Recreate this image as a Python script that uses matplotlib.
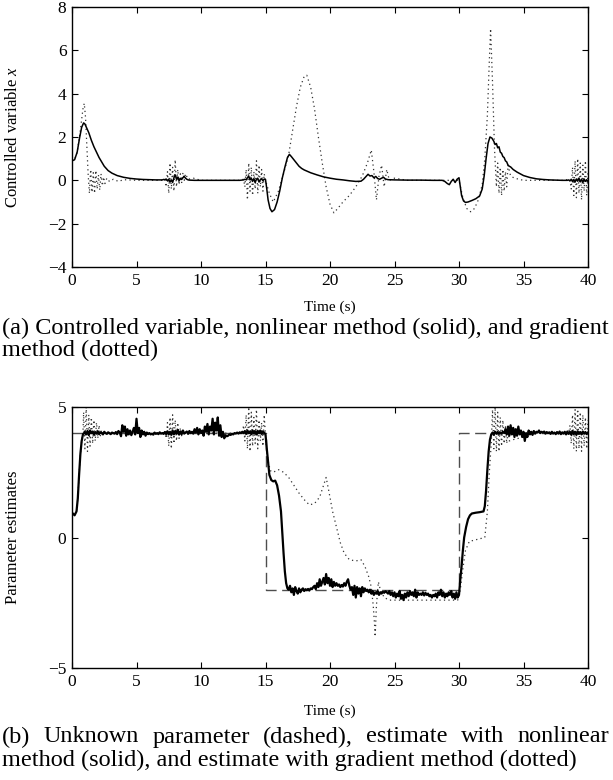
import numpy as np
import matplotlib
matplotlib.use('Agg')
import matplotlib.pyplot as plt

plt.rcParams['font.family'] = ['Liberation Serif', 'DejaVu Serif']
plt.rcParams['mathtext.fontset'] = 'custom'
plt.rcParams['mathtext.it'] = 'Liberation Serif:italic'
plt.rcParams['mathtext.rm'] = 'Liberation Serif'

# ---------------- data: controlled variable x ----------------
t_x_nl = [0, 0.2, 0.4, 0.6, 0.75, 0.9, 1.0, 1.15, 1.3, 1.5, 1.7, 1.9, 2.1, 2.3, 2.5, 2.8, 3.1, 3.5, 4.0, 4.5,
          5.0, 5.5, 6.0, 6.5, 7.0,
          7.1, 7.2, 7.3, 7.4, 7.5, 7.6, 7.7, 7.8, 7.9, 8.0, 8.1, 8.2, 8.3, 8.4, 8.5, 8.6, 8.7, 8.8, 8.9, 9.0, 9.1,
          9.5, 10, 11, 12, 13, 13.3,
          13.4, 13.5, 13.6, 13.7, 13.8, 13.9, 14.0, 14.1, 14.2, 14.3, 14.4, 14.5, 14.6, 14.7, 14.8, 14.9, 15.0,
          15.1, 15.2, 15.35, 15.5, 15.7, 15.9, 16.1, 16.3, 16.5, 16.7, 16.85, 17.0, 17.2, 17.4, 17.6, 17.8, 18.0,
          18.5, 19.0, 19.5, 20.0, 20.5, 21.0, 21.5, 22.0, 22.4, 22.6, 22.8, 22.95, 23.1, 23.25, 23.4, 23.55, 23.7,
          23.85, 24.0, 24.15, 24.3, 24.5, 25.0, 26, 27, 28, 28.7, 28.9, 29.1, 29.25, 29.4, 29.55, 29.7, 29.85,
          30.0, 30.1, 30.2, 30.35, 30.5, 30.7, 31.0, 31.3, 31.6, 31.8, 31.95, 32.1, 32.25, 32.4, 32.55, 32.7, 32.8,
          32.9, 33.0, 33.1, 33.2, 33.3, 33.4, 33.5, 33.6, 33.7, 33.8, 33.9, 34.0, 34.2, 34.5, 35.0, 35.5, 36,
          36.5, 37, 37.5, 38, 38.4,
          38.5, 38.6, 38.7, 38.8, 38.9, 39.0, 39.1, 39.2, 39.3, 39.4, 39.5, 39.6, 39.7, 39.8, 39.9, 40.0]
x_nl = [0.9, 0.95, 1.3, 2.0, 2.45, 2.65, 2.6, 2.4, 2.2, 1.85, 1.55, 1.3, 1.05, 0.85, 0.65, 0.45, 0.33, 0.22, 0.14, 0.09,
        0.06, 0.04, 0.03, 0.02, 0.02,
        0.04, 0.03, 0.06, -0.02, 0.05, -0.08, 0.02, -0.1, 0.12, 0.25, 0.05, 0.15, -0.02, 0.08, 0.04, 0.12, 0.18, 0.1,
        0.05, 0.02, 0.01,
        0.0, 0.0, 0.0, 0.0, 0.0, 0.02,
        0.05, 0.03, 0.12, 0.2, 0.02, 0.1, -0.05, 0.08, -0.1, 0.05, 0.1, -0.08, 0.03, 0.07, -0.02, 0.06, 0.04,
        -0.4, -0.9, -1.3, -1.45, -1.35, -1.0, -0.5, 0.1, 0.6, 1.05, 1.2, 1.1, 0.95, 0.8, 0.65, 0.55, 0.48,
        0.35, 0.25, 0.16, 0.1, 0.05, 0.02, -0.02, -0.05, -0.04, 0.05, 0.18, 0.28, 0.2, 0.22, 0.12, 0.18, 0.08,
        0.05, 0.1, 0.14, 0.06, 0.03, 0.02, 0.01, 0.01, 0.0, 0.0, -0.05, -0.15, -0.2, -0.05, 0.05, -0.1, 0.05,
        0.12, -0.3, -0.7, -0.95, -1.02, -1.0, -0.93, -0.85, -0.72, -0.4, 0.2, 1.0, 1.7, 2.0, 1.95, 1.8, 1.65,
        1.7, 1.5, 1.55, 1.3, 1.25, 1.1, 1.05, 0.9, 0.85, 0.7, 0.65, 0.62, 0.5, 0.38, 0.22, 0.13, 0.07,
        0.04, 0.02, 0.01, 0.0, 0.0,
        0.02, -0.03, 0.05, -0.06, 0.04, -0.08, 0.06, -0.04, 0.1, -0.07, 0.05, -0.1, 0.06, -0.05, 0.03, -0.06]

t_x_gr = [0, 0.2, 0.4, 0.6, 0.75, 0.85, 0.95, 1.05, 1.15, 1.25, 1.35, 1.45, 1.55, 1.65, 1.75, 1.85, 1.95, 2.05,
          2.15, 2.25, 2.35, 2.45, 2.55, 2.7, 2.9, 3.2, 3.6, 4, 5, 6, 7,
          7.2, 7.3, 7.4, 7.5, 7.6, 7.7, 7.8, 7.9, 8.0, 8.1, 8.2, 8.3, 8.4, 8.5, 8.6, 8.7, 8.8, 9.0, 9.4, 10, 11,
          12, 13, 13.3, 13.4, 13.5, 13.6, 13.7, 13.8, 13.9, 14.0, 14.1, 14.2, 14.3, 14.4, 14.5, 14.6, 14.7, 14.8,
          14.9, 15.0, 15.3, 15.6, 16.0, 16.4, 16.8, 17.1, 17.4, 17.7, 18.0, 18.2, 18.5, 18.8, 19.1, 19.4, 19.7,
          20.0, 20.3, 20.6, 21.0, 21.5, 22.0, 22.5, 22.9, 23.2, 23.4, 23.6, 23.8, 24.0, 24.2, 24.4, 24.6, 25.0,
          26, 27, 28, 29, 30.0, 30.3, 30.6, 30.9, 31.2, 31.5, 31.8, 32.0, 32.2, 32.35, 32.45, 32.6, 32.75, 32.9,
          33.0, 33.1, 33.2, 33.3, 33.4, 33.5, 33.6, 33.7, 33.8, 34.0, 34.3, 35, 36, 37, 38, 38.6,
          38.7, 38.8, 38.9, 39.0, 39.1, 39.2, 39.3, 39.4, 39.5, 39.6, 39.7, 39.8, 39.9, 40.0]
x_gr = [0.9, 0.95, 1.3, 2.1, 2.8, 3.3, 3.55, 2.9, 1.6, 0.3, -0.6, 0.5, -0.55, 0.35, -0.6, 0.45, -0.4, 0.25,
        -0.45, 0.3, -0.25, 0.15, -0.15, 0.1, -0.05, 0.05, -0.05, 0.03, 0.0, 0.0, 0.0,
        0.05, -0.3, 0.4, -0.6, 0.8, -0.4, 0.6, -0.5, 0.95, -0.3, 0.5, -0.2, 0.3, -0.1, 0.35, 0.0, 0.3, 0.05, 0.1,
        0.0, 0.0, 0.0, 0.0, 0.05, -0.3, 0.5, -0.9, 0.8, -0.5, 0.6, -0.7, 0.4, -0.4, 0.9, -0.6, 0.7, -0.3, 0.5,
        -0.5, 0.3, 0.0, -0.6, -1.0, -0.5, 0.3, 1.2, 2.3, 3.4, 4.3, 4.8, 4.85, 4.3, 3.3, 2.0, 0.8, -0.3,
        -1.1, -1.5, -1.3, -1.0, -0.7, -0.3, 0.2, 0.8, 1.4, 0.4, -0.9, 0.2, 0.7, -0.3, 0.5, 0.0, 0.1,
        0.0, 0.0, 0.0, 0.0, 0.0, -0.8, -1.3, -1.45, -1.3, -0.9, -0.2, 1.0, 3.0, 5.5, 7.0, 4.5, 1.5, -0.3,
        0.8, -0.6, 0.6, -0.7, 0.5, -0.5, 0.4, -0.3, 0.7, 0.2, 0.1, 0.0, 0.0, 0.0, 0.0, 0.05,
        -0.4, 0.6, -0.7, 0.9, -0.8, 1.0, -0.6, 0.8, -0.9, 0.7, -0.5, 0.9, -0.7, 0.4]

# ---------------- data: parameter estimates ----------------
t_true = [0, 15, 15, 30, 30, 40]
p_true = [4, 4, -2, -2, 4, 4]

t_p_nl = ([0, 0.2, 0.35, 0.45, 0.55, 0.65, 0.75, 0.85]
          + [round(0.9 + 0.1 * i, 1) for i in range(142)]
          + [15.1, 15.2, 15.3, 15.45, 15.6, 15.75, 15.9, 16.05, 16.2, 16.3, 16.4, 16.5, 16.6, 16.7]
          + [round(16.8 + 0.1 * i, 1) for i in range(133)]
          + [30.1, 30.2, 30.3, 30.4, 30.55, 30.7, 30.85, 31.0, 31.3, 31.6, 31.9, 32.0, 32.1, 32.2, 32.3, 32.4, 32.5]
          + [round(32.6 + 0.1 * i, 1) for i in range(75)])
p_nl = ([0.95, 0.85, 1.0, 1.5, 2.4, 3.2, 3.7, 3.95]
        + [3.98, 4.05, 3.95, 4.08, 3.92, 4.1, 4.0, 4.06, 3.94, 4.04, 3.98, 4.07, 3.96, 4.03, 4.0, 3.95, 4.05, 4.0,
           3.97, 4.03, 4.0, 3.96, 4.02, 4.0, 3.98, 4.04, 3.96, 4.08, 4.02, 3.88, 4.3, 4.05, 4.25, 3.9, 4.15, 3.95,
           4.1, 3.92, 4.05, 4.2, 3.95, 4.55, 4.0, 4.2, 3.85, 4.1, 3.95, 4.05, 3.9, 4.02, 3.96, 4.0, 3.95, 3.98,
           3.94, 4.02, 3.97, 4.0, 3.96, 4.03, 3.98, 4.0, 3.97, 4.04, 3.96, 4.07, 3.95, 4.05, 3.93, 4.1, 3.95,
           4.08, 3.98, 4.12, 3.94, 4.06, 3.96, 4.1, 3.98, 4.02, 4.06, 3.97, 4.08, 4.0, 4.05, 3.98, 4.15, 4.02,
           4.2, 3.95, 4.15, 4.0, 4.1, 3.9, 4.25, 4.05, 4.35, 3.95, 4.25, 4.1, 4.55, 3.95, 4.4, 4.1, 4.6, 3.9,
           4.3, 3.85, 4.05, 3.8, 3.92, 3.88, 3.9, 3.95, 3.93, 3.97, 3.95, 4.0, 3.98, 4.02, 3.98, 4.03, 4.0, 4.05,
           4.0, 4.08, 3.97, 4.1, 4.0, 4.06, 3.96, 4.1, 3.98, 4.07, 3.95, 4.08, 4.0, 4.1, 3.97, 4.05, 4.02, 3.95]
        + [3.4, 2.9, 2.4, 2.2, 2.15, 2.18, 2.0, 1.6, 1.0, 0.2, -0.6, -1.3, -1.75, -1.95]
        + [-2.0, -1.85, -2.1, -1.95, -2.2, -1.9, -2.05, -2.15, -1.95, -2.1, -2.0, -1.95, -2.05, -1.98, -2.02,
           -1.97, -2.03, -1.95, -1.98, -1.9, -1.85, -1.98, -1.75, -1.9, -1.6, -1.85, -1.7, -1.55, -1.8, -1.4,
           -1.75, -1.55, -1.85, -1.6, -1.9, -1.7, -1.85, -1.75, -1.85, -1.8, -1.9, -1.82, -1.88, -1.75, -1.85,
           -1.7, -1.6, -1.85, -2.0, -1.9, -2.2, -1.85, -2.3, -1.9, -2.15, -1.95, -2.25, -1.9, -2.1, -1.95, -2.05,
           -2.0, -2.1, -2.0, -2.15, -2.05, -2.2, -2.1, -2.15, -2.05, -2.2, -2.1, -2.15, -2.08, -2.12, -2.06,
           -2.1, -2.15, -2.05, -2.2, -2.1, -2.25, -2.1, -2.3, -2.15, -2.25, -2.05, -2.35, -2.2, -2.4, -2.15,
           -2.3, -2.1, -2.25, -2.05, -2.2, -2.1, -2.25, -2.0, -2.3, -2.1, -2.2, -2.15, -2.2, -2.1, -2.22, -2.12,
           -2.2, -2.15, -2.25, -2.2, -2.3, -2.2, -2.25, -2.15, -2.3, -2.1, -2.2, -2.0, -2.25, -2.1, -2.3, -2.15,
           -2.25, -2.1, -2.2, -2.05, -2.3, -2.15, -2.35, -2.1, -2.3, -2.2]
        + [-1.6, -1.1, -0.5, 0.0, 0.4, 0.7, 0.85, 0.92, 0.95, 0.97, 1.0, 1.2, 1.8, 2.6, 3.3, 3.75, 3.95]
        + [4.02, 3.95, 4.05, 3.98, 4.04, 3.97, 4.02, 3.99, 4.05, 4.0, 4.15, 3.95, 4.25, 3.9, 4.3, 3.95, 4.2,
           3.85, 4.15, 3.9, 4.25, 3.95, 4.1, 3.85, 4.05, 3.7, 4.0, 3.85, 4.1, 3.95, 4.05, 3.93, 4.08, 3.98,
           4.05, 4.02, 4.1, 4.0, 4.05, 4.02, 4.06, 3.98, 4.04, 4.0, 4.03, 3.97, 4.05, 3.98, 4.02, 3.96, 4.04,
           3.98, 4.06, 3.96, 4.03, 3.98, 4.05, 3.95, 4.06, 3.97, 4.05, 3.94, 4.08, 3.96, 4.05, 3.93, 4.07,
           3.97, 4.04, 3.95, 4.06, 3.98, 4.04, 3.96, 4.02])

t_p_gr = [0, 0.2, 0.35, 0.45, 0.55, 0.65, 0.75, 0.85, 0.9, 1.0, 1.1, 1.2, 1.3, 1.4, 1.5, 1.6, 1.7, 1.8, 1.9,
          2.0, 2.1, 2.2, 2.3, 2.5, 3, 7.0, 7.2, 7.3, 7.4, 7.5, 7.6, 7.7, 7.8, 7.9, 8.0, 8.1, 8.2, 8.3, 8.4, 8.5,
          8.6, 8.8, 13.2, 13.3, 13.4, 13.5, 13.6, 13.7, 13.8, 13.9, 14.0, 14.1, 14.2, 14.3, 14.4, 14.5, 14.6,
          14.7, 14.8, 14.9, 15.0, 15.1, 15.25, 15.4, 15.6, 16.0, 16.4, 16.8, 17.2, 17.6, 18.0, 18.4, 18.8, 19.2,
          19.5, 19.7, 19.9, 20.2, 20.5, 20.8, 21.1, 21.5, 22.0, 22.4, 22.7, 23.0, 23.2, 23.35, 23.45, 23.5,
          23.6, 23.75, 23.9, 24.2, 24.6, 25.0, 29.9, 30.1, 30.3, 30.5, 30.8, 31.2, 31.6, 32.0, 32.2, 32.35,
          32.5, 32.6, 32.7, 32.8, 32.9, 33.0, 33.1, 33.2, 33.3, 33.4, 33.5, 33.6, 33.7, 33.8, 33.9, 34.2, 34.6,
          35.0, 35.5, 36, 38.5, 38.6, 38.7, 38.8, 38.9, 39.0, 39.1, 39.2, 39.3, 39.4, 39.5, 39.6, 39.7, 39.8,
          39.9, 40.0]
p_gr = [0.95, 0.85, 1.0, 1.5, 2.4, 3.2, 3.7, 4.0, 4.8, 3.4, 5.0, 3.3, 4.7, 3.5, 4.6, 3.6, 4.5, 3.7, 4.4,
        3.8, 4.3, 3.9, 4.1, 4.0, 4.0, 4.0, 4.1, 3.8, 4.4, 3.5, 4.6, 3.4, 4.7, 3.6, 4.5, 3.7, 4.4, 3.8, 4.2, 3.9,
        4.1, 4.0, 4.0, 4.3, 3.7, 4.7, 3.4, 5.0, 3.3, 4.8, 3.5, 4.6, 3.6, 4.9, 3.4, 4.5, 3.7, 4.4, 3.5, 4.7,
        3.9, 3.3, 2.8, 2.55, 2.5, 2.6, 2.5, 2.3, 2.0, 1.7, 1.45, 1.25, 1.3, 1.55, 2.0, 2.3, 1.8, 1.0, 0.4,
        -0.2, -0.6, -0.85, -0.9, -0.85, -1.1, -1.5, -1.9, -2.6, -3.3, -3.8, -2.6, -1.7, -2.0, -2.3, -2.4,
        -2.4, -2.4, -2.0, -1.2, -0.5, -0.15, -0.1, -0.05, 0.0, 1.0, 2.5, 3.6, 4.9, 3.4, 5.0, 3.3, 4.8, 3.3,
        4.6, 3.5, 4.5, 3.6, 4.3, 3.6, 4.1, 3.7, 3.75, 3.8, 3.85, 3.95, 4.0, 4.0, 4.3, 3.6, 4.7, 3.4, 4.9,
        3.3, 5.0, 3.4, 4.8, 3.3, 4.7, 3.5, 4.6, 3.4, 4.5]

xticks = [0, 5, 10, 15, 20, 25, 30, 35, 40]
yticks_top = [-4, -2, 0, 2, 4, 6, 8]
yticks_bot = [-5, 0, 5]

# ---------------- figure ----------------
W, H = 613, 780
fig = plt.figure(figsize=(W / 100, H / 100), dpi=100)


def rect(l, t, r, b):
    return [l / W, 1 - b / H, (r - l) / W, (b - t) / H]


L, R = 72, 588
ax1 = fig.add_axes(rect(L, 7, R, 267))
ax2 = fig.add_axes(rect(L, 407, R, 668))

TICK_FS = 12.5
LAB_FS = 11
YLAB_FS = 12
DOT = (0, (1, 2.6))

for ax in (ax1, ax2):
    ax.set_xlim(0, 40)
    ax.set_xticks(xticks)
    ax.tick_params(direction='in', top=True, right=True, length=4, width=0.8,
                   labelsize=TICK_FS, pad=4)
    for s in ax.spines.values():
        s.set_linewidth(1.0)

ax1.set_ylim(-4, 8)
ax1.set_yticks(yticks_top)
ax2.set_ylim(-5, 5)
ax2.set_yticks(yticks_bot)

ax1.plot(t_x_gr, x_gr, linestyle=DOT, color='0.2', lw=0.9)
ax1.plot(t_x_nl, x_nl, '-', color='black', lw=1.1)

ax2.plot(t_true, p_true, linestyle=(0, (8, 4)), color='0.3', lw=1.0)
ax2.plot(t_p_gr, p_gr, linestyle=DOT, color='0.2', lw=0.9)
ax2.plot(t_p_nl, p_nl, '-', color='black', lw=1.6)

ax1.set_ylabel('Controlled variable $x$', fontsize=YLAB_FS)
ax2.set_ylabel('Parameter estimates', fontsize=YLAB_FS)
ax1.yaxis.set_label_coords((21 - L) / (R - L), 0.5)
ax2.yaxis.set_label_coords((21 - L) / (R - L), 0.5)
fig.text((L + R) / 2 / W, 1 - 307 / H, 'Time (s)', fontsize=LAB_FS, ha='center', va='center')
fig.text((L + R) / 2 / W, 1 - 711 / H, 'Time (s)', fontsize=LAB_FS, ha='center', va='center')

# captions
CAP_FS = 15.5
fig.canvas.draw()
renderer = fig.canvas.get_renderer()


def width_px(s, fs):
    t = fig.text(0, 0, s, fontsize=fs)
    w = t.get_window_extent(renderer).width
    t.remove()
    return w


capA1 = '(a) Controlled variable, nonlinear method (solid), and gradient'
wA = width_px(capA1, CAP_FS)
CAP_FS = CAP_FS * 607 / wA

fig.text(2 / W, 1 - 328 / H, capA1, fontsize=CAP_FS, ha='left', va='center')
fig.text(2 / W, 1 - 350 / H, 'method (dotted)', fontsize=CAP_FS, ha='left', va='center')


def justified(words, y, x0, x1, fs):
    ws = [width_px(w, fs) for w in words]
    gap = (x1 - x0 - sum(ws)) / (len(words) - 1)
    x = x0
    for w, wd in zip(words, ws):
        fig.text(x / W, 1 - y / H, w, fontsize=fs, ha='left', va='center')
        x += wd + gap


justified('(b) Unknown parameter (dashed), estimate with nonlinear'.split(), 737, 2, 609, CAP_FS)
fig.text(2 / W, 1 - 760 / H, 'method (solid), and estimate with gradient method (dotted)',
         fontsize=CAP_FS, ha='left', va='center')

fig.savefig('out.png', dpi=100)
